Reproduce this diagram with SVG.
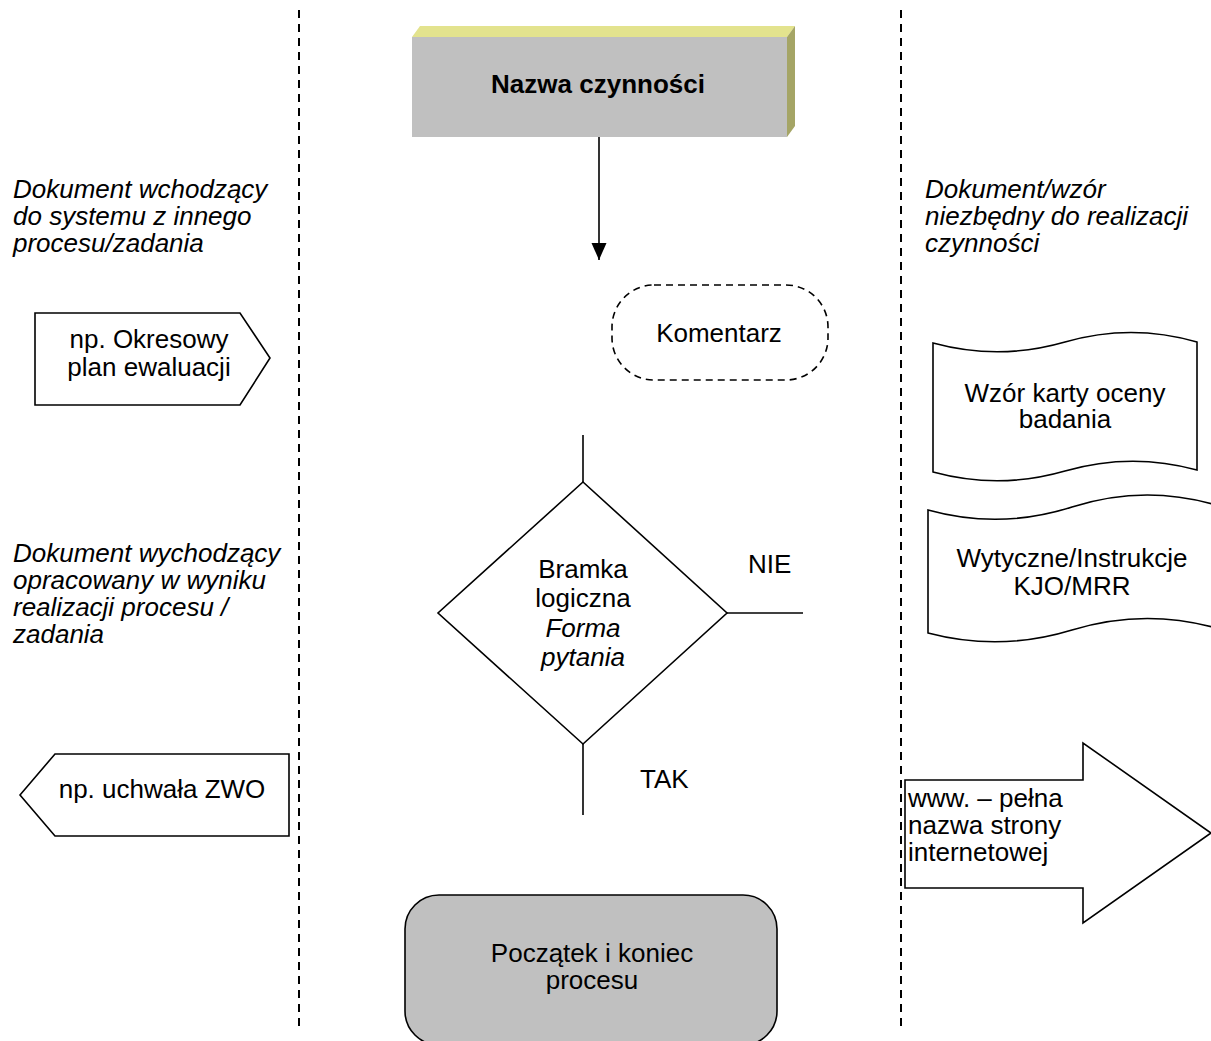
<svg xmlns="http://www.w3.org/2000/svg" width="1211" height="1041" viewBox="0 0 1211 1041">
  <style>
    text { font-family: "Liberation Sans", Arial, sans-serif; font-size: 26px; fill: #000; }
    .c { text-anchor: middle; }
    .i { font-style: italic; }
    .b { font-weight: bold; }
    .shape { fill: #fff; stroke: #000; stroke-width: 1.6; }
    .lane { fill: none; stroke: #000; stroke-width: 2; stroke-dasharray: 8 6; }
    .line { fill: none; stroke: #000; stroke-width: 1.6; }
  </style>
  <defs>
    <marker id="arrow" markerUnits="userSpaceOnUse" markerWidth="18" markerHeight="16" refX="17" refY="8" orient="auto" viewBox="0 0 18 16">
      <path d="M0,0.5 L17,8 L0,15.5 Z" fill="#000"/>
    </marker>
  </defs>
  <rect width="1211" height="1041" fill="#fff"/>

  <!-- swimlane separators -->
  <g id="lanes">
    <line class="lane" x1="299" y1="10" x2="299" y2="1032"/>
    <line class="lane" x1="901" y1="10" x2="901" y2="1032"/>
  </g>

  <!-- lane captions -->
  <g id="caption-in">
    <text class="i" x="13" y="198">Dokument wchodzący</text>
    <text class="i" x="13" y="225">do systemu z innego</text>
    <text class="i" x="13" y="252">procesu/zadania</text>
  </g>
  <g id="caption-out">
    <text class="i" x="13" y="562">Dokument wychodzący</text>
    <text class="i" x="13" y="589">opracowany w wyniku</text>
    <text class="i" x="13" y="616">realizacji procesu /</text>
    <text class="i" x="13" y="643">zadania</text>
  </g>
  <g id="caption-doc">
    <text class="i" x="925" y="198">Dokument/wzór</text>
    <text class="i" x="925" y="225">niezbędny do realizacji</text>
    <text class="i" x="925" y="252">czynności</text>
  </g>

  <!-- activity box (bevelled) -->
  <g id="activity">
    <polygon points="412,37 420,26 795,26 787,37" fill="#E3E38E"/>
    <polygon points="787,37 795,26 795,126 787,137" fill="#A5A566"/>
    <rect x="412" y="37" width="375" height="100" fill="#C0C0C0"/>
    <text class="c b" x="598" y="93">Nazwa czynności</text>
  </g>

  <!-- comment -->
  <g id="comment">
    <rect x="612" y="285" width="216" height="95" rx="42" ry="42" fill="#fff" stroke="#000" stroke-width="1.6" stroke-dasharray="7 5"/>
    <text class="c" x="719" y="342">Komentarz</text>
  </g>

  <!-- incoming document -->
  <g id="doc-in">
    <polygon class="shape" points="35,313 240,313 270,358 240,405 35,405"/>
    <text class="c" x="149" y="348">np. Okresowy</text>
    <text class="c" x="149" y="376">plan ewaluacji</text>
  </g>

  <!-- outgoing document -->
  <g id="doc-out">
    <polygon class="shape" points="20,795 55,754 289,754 289,836 55,836"/>
    <text class="c" x="162" y="798">np. uchwała ZWO</text>
  </g>

  <!-- decision gateway -->
  <g id="gateway">
    <polygon class="shape" points="583,482 727,613 583,744 438,613"/>
    <text class="c" x="583" y="578">Bramka</text>
    <text class="c" x="583" y="607">logiczna</text>
    <text class="c i" x="583" y="637">Forma</text>
    <text class="c i" x="583" y="666">pytania</text>
  </g>
  <g id="label-nie">
    <text x="748" y="573">NIE</text>
  </g>
  <g id="label-tak">
    <text x="640" y="788">TAK</text>
  </g>

  <!-- template documents (punched tape) -->
  <g id="tape-template">
    <path class="shape" d="M933,343 Q999,361 1065,342 T1197,342 L1197,470 Q1131,452 1065,471 T933,472 Z"/>
    <text class="c" x="1065" y="402">Wzór karty oceny</text>
    <text class="c" x="1065" y="428">badania</text>
  </g>
  <g id="tape-guidelines">
    <path class="shape" d="M928,510 Q1000,530 1072,507 T1216,505 L1216,628 Q1144,608 1072,630 T928,633 Z"/>
    <text class="c" x="1072" y="567">Wytyczne/Instrukcje</text>
    <text class="c" x="1072" y="595">KJO/MRR</text>
  </g>

  <!-- website arrow -->
  <g id="website">
    <polygon class="shape" points="905,780 1083,780 1083,743 1211,833 1083,923 1083,888 905,888"/>
    <text x="908" y="807">www. – pełna</text>
    <text x="908" y="834">nazwa strony</text>
    <text x="908" y="861">internetowej</text>
  </g>

  <!-- start / end terminator -->
  <g id="terminator">
    <rect x="405" y="895" width="372" height="150" rx="34" ry="34" fill="#C0C0C0" stroke="#000" stroke-width="1.6"/>
    <text class="c" x="592" y="962">Początek i koniec</text>
    <text class="c" x="592" y="989">procesu</text>
  </g>

  <!-- connectors -->
  <g id="connectors">
    <line class="line" x1="599" y1="137" x2="599" y2="260" marker-end="url(#arrow)"/>
    <line class="line" x1="583" y1="435" x2="583" y2="482"/>
    <line class="line" x1="727" y1="613" x2="803" y2="613"/>
    <line class="line" x1="583" y1="744" x2="583" y2="815"/>
  </g>
</svg>
